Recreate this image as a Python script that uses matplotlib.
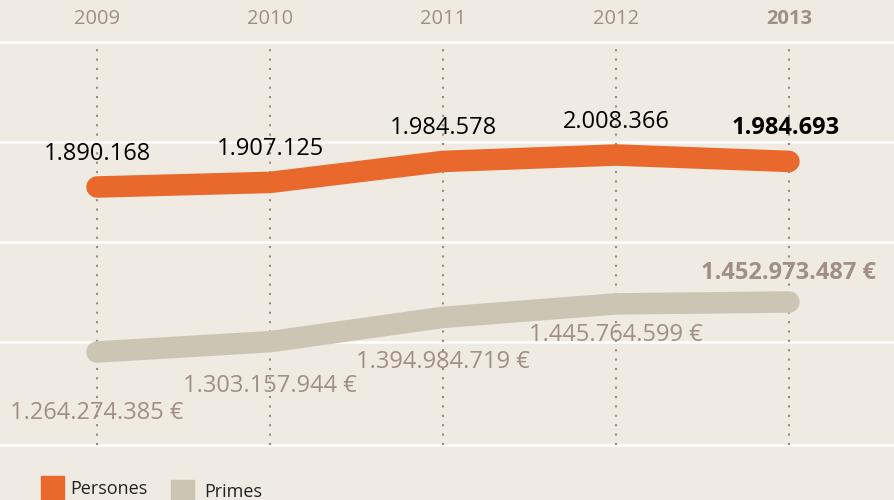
import matplotlib.pyplot as plt

plt.rcParams['font.family'] = ['Open Sans', 'DejaVu Sans']

# data
years = [2009, 2010, 2011, 2012, 2013]
persones = [1890168, 1907125, 1984578, 2008366, 1984693]
primes = [1264274385, 1303157944, 1394984719, 1445764599, 1452973487]
persones_labels = ['1.890.168', '1.907.125', '1.984.578', '2.008.366', '1.984.693']
primes_labels = ['1.264.274.385 €', '1.303.157.944 €', '1.394.984.719 €',
                 '1.445.764.599 €', '1.452.973.487 €']

BG = '#efebe2'
ORANGE = '#e8692b'
BEIGE = '#cdc5b4'
GREY = '#a08f84'

fig = plt.figure(figsize=(8.95, 5.0), dpi=100)
fig.patch.set_facecolor(BG)
ax = fig.add_axes([0, 0, 1, 1])
ax.set_facecolor(BG)
ax2 = ax.twinx()
ax2.patch.set_alpha(0)

ax.set_xlim(2008.439, 2013.613)
ax.set_ylim(733946, 2580946)
ax2.set_ylim(705.7e6, 2592.7e6)
for a in (ax, ax2):
    a.axis('off')

# white horizontal grid
for yf in [0.916, 0.716, 0.516, 0.316, 0.11]:
    ax.axhline(yf * (2580946 - 733946) + 733946, color='white', lw=1.8, zorder=0)

# dotted year guides + year labels
for i, yr in enumerate(years):
    ax.axvline(yr, ymin=0.11, ymax=0.916, color='#9a8a80', lw=1.5,
               linestyle=(0, (1, 3.5)), zorder=1)
    ax.text(yr, 0.962, str(yr), transform=ax.get_xaxis_transform(),
            ha='center', va='center', fontsize=14.5, color=GREY,
            fontweight='bold' if i == len(years) - 1 else 'normal')

ax.plot(years, persones, color=ORANGE, lw=15.5, solid_capstyle='round',
        solid_joinstyle='round', zorder=3)
ax2.plot(years, primes, color=BEIGE, lw=15.5, solid_capstyle='round',
         solid_joinstyle='round', zorder=3)

# value labels (pixel offsets from each point)
for i, (x, v, t) in enumerate(zip(years, persones, persones_labels)):
    last = i == len(years) - 1
    ax.annotate(t, (x, v), xytext=(-3 if last else 0, 33), textcoords='offset pixels',
                ha='center', va='center', fontsize=17, color='black',
                fontweight='bold' if last else 'normal', zorder=5)

primes_off = [-61, -44, -45, -31, 29]
for i, (x, v, t) in enumerate(zip(years, primes, primes_labels)):
    last = i == len(years) - 1
    ax2.annotate(t, (x, v), xytext=(0, primes_off[i]), textcoords='offset pixels',
                 ha='center', va='center', fontsize=17, color=GREY,
                 fontweight='bold' if last else 'normal', zorder=5)

# legend
fig.patches.append(plt.Rectangle((41 / 895, 1 - 499 / 500), 23 / 895, 23 / 500,
                                 transform=fig.transFigure, color=ORANGE))
fig.text(70 / 895, 1 - 489 / 500, 'Persones', fontsize=13, color='#222222',
         ha='left', va='center')
fig.patches.append(plt.Rectangle((171 / 895, 0), 23 / 895, 20 / 500,
                                 transform=fig.transFigure, color=BEIGE))
fig.text(204 / 895, 1 - 492 / 500, 'Primes', fontsize=13, color='#222222',
         ha='left', va='center')

fig.savefig('out.png', dpi=100, facecolor=BG)
